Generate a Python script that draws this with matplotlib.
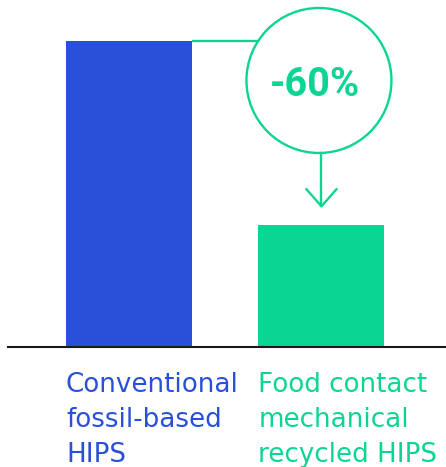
import numpy as np
import matplotlib.pyplot as plt
from matplotlib.patches import Ellipse

categories = [
    ["Conventional", "fossil-based", "HIPS"],
    ["Food contact", "mechanical", "recycled HIPS"],
]
values = [100, 40]
change_label = "-60%"

blue = "#2a4fd9"
green = "#0bd593"

fig = plt.figure(figsize=(4.46, 4.67), dpi=100)
ax = fig.add_axes([0, 0, 1, 1])
ax.set_xlim(-0.670, 1.647)
ax.set_ylim(-39.2, 113.4)
ax.axis("off")

bar_w = 0.655
x = np.arange(len(values))
ax.bar(x, values, width=bar_w, color=[blue, green])

# baseline
ax.axhline(0, xmin=8 / 446, xmax=1, color="#1a1a1a", lw=1.5)

# pixel scale of data units
px_x = 446 / (1.647 + 0.670)
px_y = 467 / (113.4 + 39.2)

# circle with the change label
cx, cy = x[1] - 0.013, 87.1
r_px = 72.5
ax.add_patch(Ellipse((cx, cy), 2 * r_px / px_x, 2 * r_px / px_y,
                     fill=False, ec=green, lw=1.7))
ax.text(cx - 0.02, cy - 1.5, change_label, color=green, fontsize=28.5,
        fontweight="bold", family="Roboto", ha="center", va="center")

# connector from first bar top to the circle
dy_px = (values[0] - cy) * px_y
dx_px = np.sqrt(r_px ** 2 - dy_px ** 2)
ax.plot([x[0] + bar_w / 2, cx - dx_px / px_x], [values[0], values[0]],
        color=green, lw=1.7, solid_capstyle="butt")

# arrow down to the second bar
ax_x = x[1]
top = cy - r_px / px_y
tip = values[1] + 6
ax.plot([ax_x, ax_x], [top, tip], color=green, lw=1.7)
ax.plot([ax_x - 15 / px_x, ax_x, ax_x + 15 / px_x],
        [tip + 17 / px_y, tip, tip + 17 / px_y], color=green, lw=1.7)

# category labels under the bars
for i, lines in enumerate(categories):
    col = blue if i == 0 else green
    for j, line in enumerate(lines):
        ax.annotate(line, (x[i] - bar_w / 2, 0), xytext=(0, -45 - 35 * j),
                    textcoords="offset pixels", color=col, fontsize=18.8,
                    family="DejaVu Sans", ha="left", va="baseline")

fig.savefig("out.png", dpi=100)
